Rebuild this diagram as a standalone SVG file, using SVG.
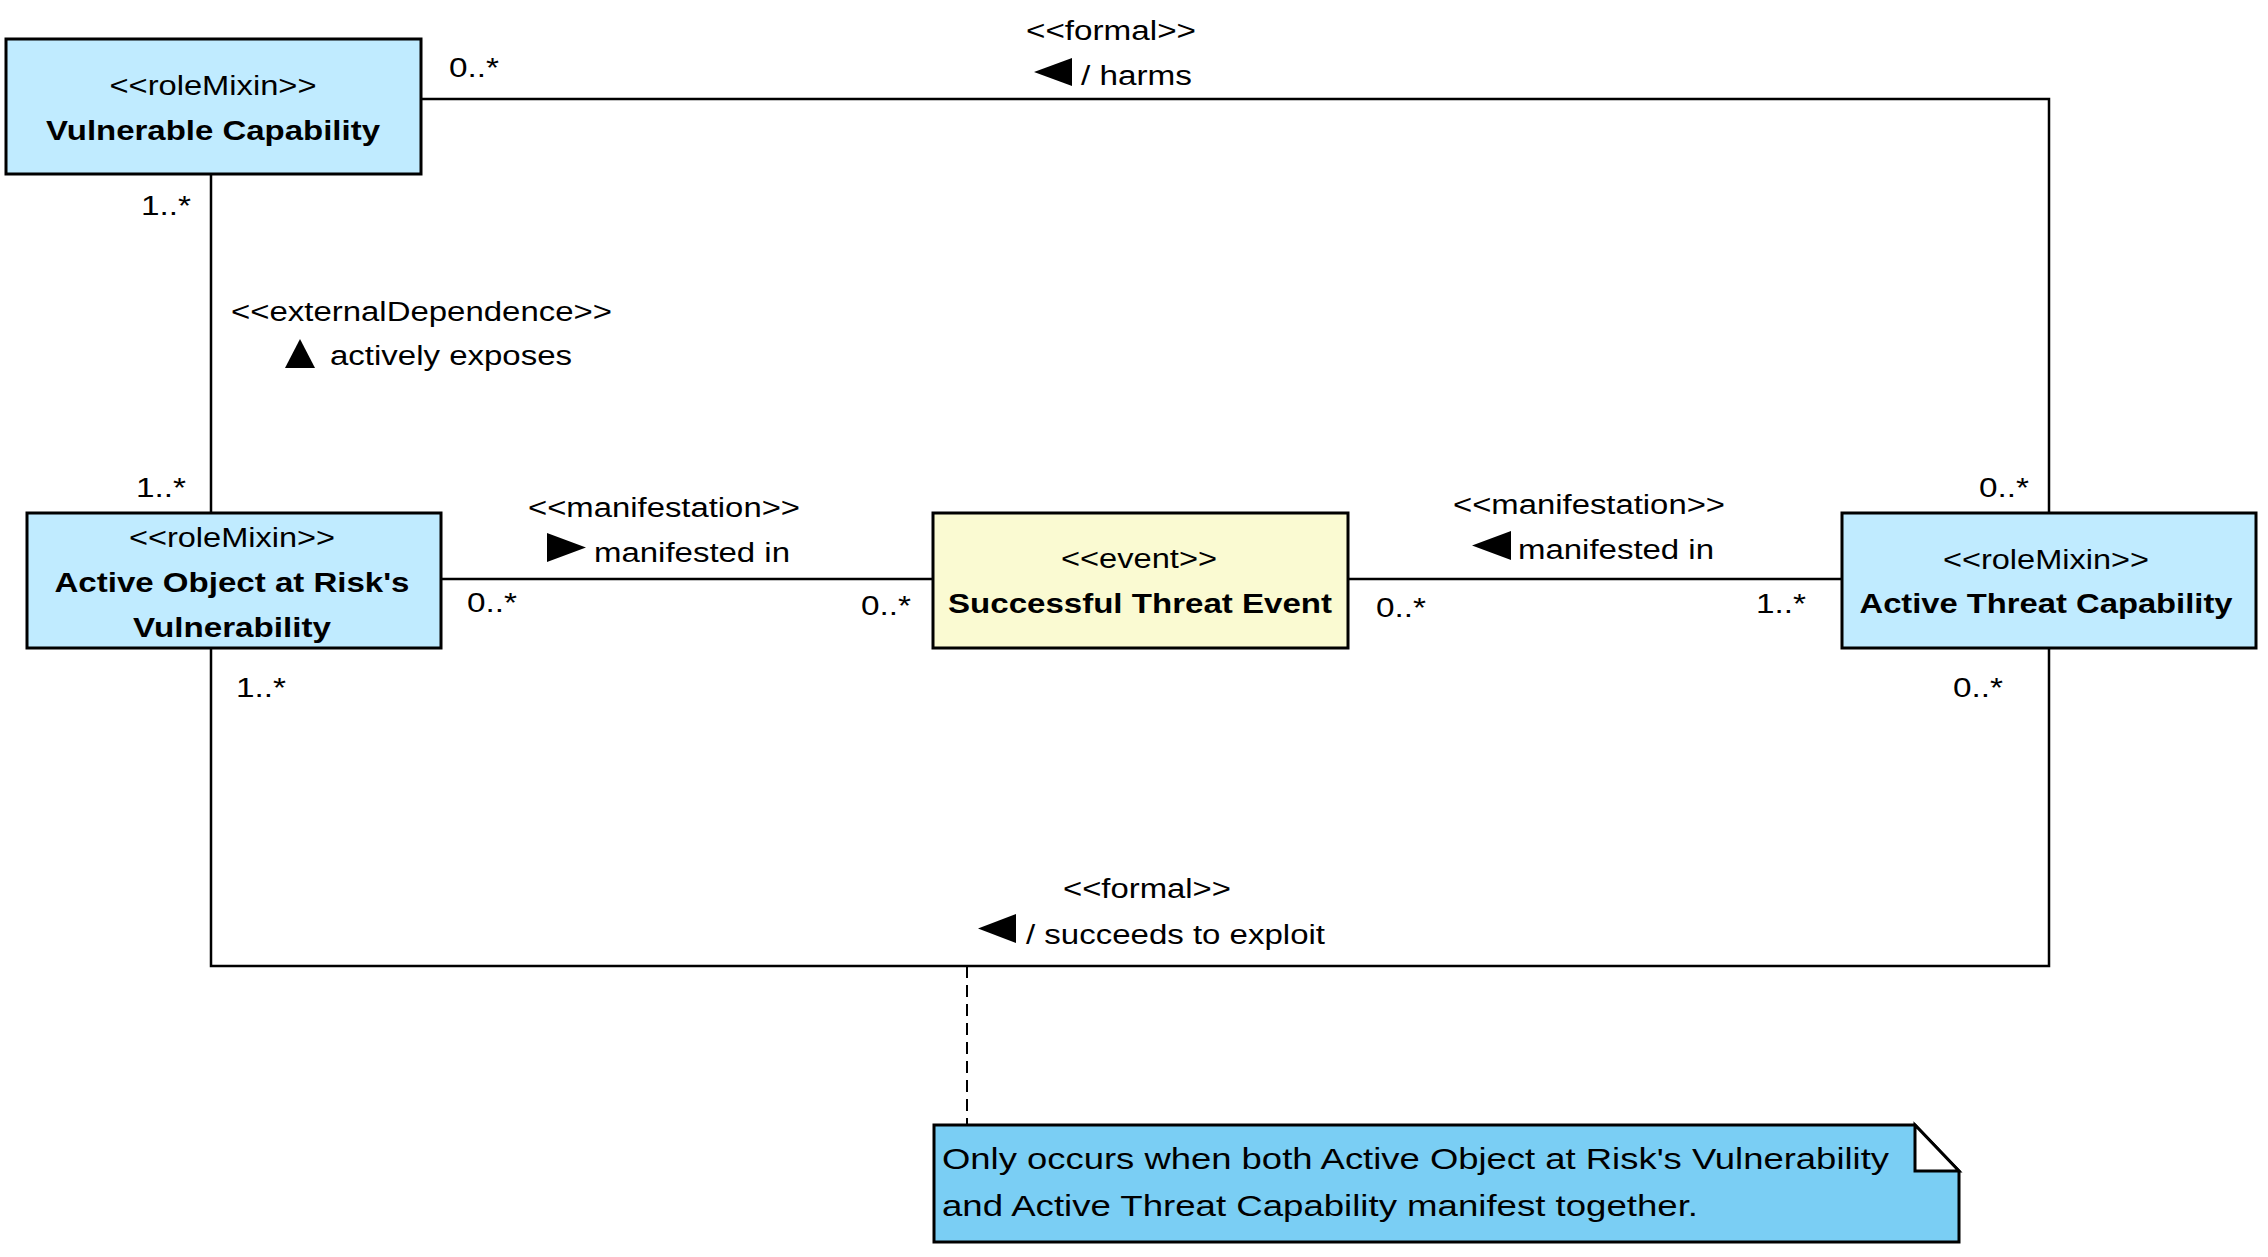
<svg xmlns="http://www.w3.org/2000/svg" width="2268" height="1257" viewBox="0 0 2268 1257">
<style>
  text { font-family: "Liberation Sans", Arial, sans-serif; font-size: 27px; fill: #000; }
  .b { font-weight: bold; }
  .m { text-anchor: middle; }
  .cls { fill: #C0EBFF; stroke: #000; stroke-width: 3; }
  .evt { fill: #FAFAD2; stroke: #000; stroke-width: 3; }
  .note { fill: #7ACEF4; stroke: #000; stroke-width: 3; }
  .fold { fill: #FFFFFF; stroke: #000; stroke-width: 3; stroke-linejoin: miter; }
  .c { fill: none; stroke: #000; stroke-width: 2.5; }
  .d { fill: none; stroke: #000; stroke-width: 2; stroke-dasharray: 12 7; }
  .tri { fill: #000; }
  .nt { font-size: 29px; }
</style>
<rect width="2268" height="1257" fill="#FFFFFF"/>

<g id="connectors">
  <polyline class="c" points="421,99 2049,99 2049,513"/>
  <line class="c" x1="211" y1="174" x2="211" y2="513"/>
  <polyline class="c" points="211,648 211,966 2049,966 2049,648"/>
  <line class="c" x1="441" y1="579" x2="933" y2="579"/>
  <line class="c" x1="1348" y1="579" x2="1842" y2="579"/>
  <line class="d" x1="967" y1="966" x2="967" y2="1125"/>

  <!-- harms -->
  <text x="1026" y="40" textLength="170" lengthAdjust="spacingAndGlyphs">&lt;&lt;formal&gt;&gt;</text>
  <polygon class="tri" points="1034,72 1072,58 1072,86"/>
  <text x="1081" y="85" textLength="111" lengthAdjust="spacingAndGlyphs">/ harms</text>
  <text x="449" y="77" textLength="50" lengthAdjust="spacingAndGlyphs">0..*</text>
  <text x="1979" y="497" textLength="50" lengthAdjust="spacingAndGlyphs">0..*</text>

  <!-- actively exposes -->
  <text x="231" y="321" textLength="381" lengthAdjust="spacingAndGlyphs">&lt;&lt;externalDependence&gt;&gt;</text>
  <polygon class="tri" points="285,368 315,368 300,339"/>
  <text x="330" y="365" textLength="242" lengthAdjust="spacingAndGlyphs">actively exposes</text>
  <text x="141" y="215" textLength="50" lengthAdjust="spacingAndGlyphs">1..*</text>
  <text x="136" y="497" textLength="50" lengthAdjust="spacingAndGlyphs">1..*</text>

  <!-- manifested in (left) -->
  <text x="528" y="517" textLength="272" lengthAdjust="spacingAndGlyphs">&lt;&lt;manifestation&gt;&gt;</text>
  <polygon class="tri" points="547,533 547,562 586,547.5"/>
  <text x="594" y="562" textLength="196" lengthAdjust="spacingAndGlyphs">manifested in</text>
  <text x="467" y="612" textLength="50" lengthAdjust="spacingAndGlyphs">0..*</text>
  <text x="861" y="615" textLength="50" lengthAdjust="spacingAndGlyphs">0..*</text>

  <!-- manifested in (right) -->
  <text x="1453" y="514" textLength="272" lengthAdjust="spacingAndGlyphs">&lt;&lt;manifestation&gt;&gt;</text>
  <polygon class="tri" points="1472,545.5 1511,531 1511,560"/>
  <text x="1518" y="559" textLength="196" lengthAdjust="spacingAndGlyphs">manifested in</text>
  <text x="1376" y="617" textLength="50" lengthAdjust="spacingAndGlyphs">0..*</text>
  <text x="1756" y="613" textLength="50" lengthAdjust="spacingAndGlyphs">1..*</text>

  <!-- succeeds to exploit -->
  <text x="1063" y="898" textLength="168" lengthAdjust="spacingAndGlyphs">&lt;&lt;formal&gt;&gt;</text>
  <polygon class="tri" points="978,928.5 1016,914 1016,943"/>
  <text x="1026" y="944" textLength="299" lengthAdjust="spacingAndGlyphs">/ succeeds to exploit</text>
  <text x="236" y="697" textLength="50" lengthAdjust="spacingAndGlyphs">1..*</text>
  <text x="1953" y="697" textLength="50" lengthAdjust="spacingAndGlyphs">0..*</text>
</g>

<g id="vulnerable-capability">
  <rect class="cls" x="6" y="39" width="415" height="135"/>
  <text class="m" x="213" y="95" textLength="207" lengthAdjust="spacingAndGlyphs">&lt;&lt;roleMixin&gt;&gt;</text>
  <text class="m b" x="213" y="140" textLength="334" lengthAdjust="spacingAndGlyphs">Vulnerable Capability</text>
</g>

<g id="active-object-vulnerability">
  <rect class="cls" x="27" y="513" width="414" height="135"/>
  <text class="m" x="232" y="547" textLength="206" lengthAdjust="spacingAndGlyphs">&lt;&lt;roleMixin&gt;&gt;</text>
  <text class="m b" x="232" y="592" textLength="355" lengthAdjust="spacingAndGlyphs">Active Object at Risk's</text>
  <text class="m b" x="232" y="637" textLength="198" lengthAdjust="spacingAndGlyphs">Vulnerability</text>
</g>

<g id="successful-threat-event">
  <rect class="evt" x="933" y="513" width="415" height="135"/>
  <text class="m" x="1139" y="568" textLength="156" lengthAdjust="spacingAndGlyphs">&lt;&lt;event&gt;&gt;</text>
  <text class="m b" x="1140" y="613" textLength="384" lengthAdjust="spacingAndGlyphs">Successful Threat Event</text>
</g>

<g id="active-threat-capability">
  <rect class="cls" x="1842" y="513" width="414" height="135"/>
  <text class="m" x="2046" y="569" textLength="206" lengthAdjust="spacingAndGlyphs">&lt;&lt;roleMixin&gt;&gt;</text>
  <text class="m b" x="2046" y="613" textLength="373" lengthAdjust="spacingAndGlyphs">Active Threat Capability</text>
</g>

<g id="note">
  <polygon class="note" points="934,1125 1915,1125 1959,1171 1959,1242 934,1242"/>
  <polygon class="fold" points="1915,1125 1959,1171 1915,1171"/>
  <text class="nt" x="942" y="1169" textLength="947" lengthAdjust="spacingAndGlyphs">Only occurs when both Active Object at Risk's Vulnerability</text>
  <text class="nt" x="942" y="1216" textLength="756" lengthAdjust="spacingAndGlyphs">and Active Threat Capability manifest together.</text>
</g>
</svg>
